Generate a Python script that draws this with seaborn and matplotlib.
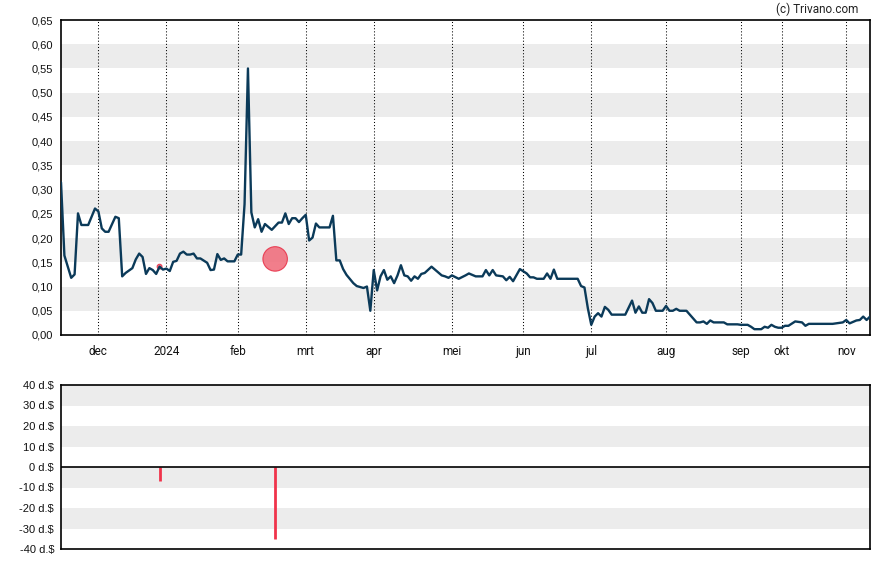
import matplotlib
matplotlib.use("Agg")
import matplotlib.pyplot as plt
import seaborn as sns
import pandas as pd
import numpy as np

# ---- data (x = trading-day index) ----
days = [0, 1, 3, 4, 5, 6, 8, 10, 11, 12, 13, 14, 16, 17, 18, 19, 20, 21, 22, 23,
        24, 25, 26, 27, 28, 29, 30, 31, 32, 33, 34, 35, 36, 37, 38, 39, 40, 41, 43, 44,
        45, 46, 47, 48, 49, 51, 52, 53, 54, 55, 56, 57, 58, 59, 60, 62, 64, 65, 66, 67,
        68, 69, 70, 71, 72, 73, 74, 75, 76, 79, 80, 81, 82, 83, 84, 86, 87, 89, 90, 91,
        92, 93, 94, 95, 96, 97, 98, 99, 100, 101, 102, 103, 104, 105, 106, 107, 109, 110, 112, 113,
        114, 115, 117, 119, 120, 122, 124, 125, 126, 127, 128, 130, 131, 132, 133, 135, 137, 138, 139, 140,
        142, 143, 144, 145, 146, 152, 153, 154, 155, 156, 157, 158, 159, 160, 161, 162, 166, 168, 169, 170,
        171, 172, 173, 174, 175, 177, 178, 179, 180, 181, 182, 184, 185, 187, 188, 189, 190, 191, 192, 195,
        196, 199, 200, 202, 203, 204, 206, 207, 208, 209, 210, 211, 212, 213, 214, 216, 218, 219, 220, 223,
        227, 230, 231, 232, 234, 235, 236, 237, 238]
prices = [0.315, 0.164, 0.118, 0.125, 0.251, 0.227, 0.227, 0.261, 0.255, 0.220, 0.213, 0.213, 0.244, 0.241, 0.121, 0.128, 0.133, 0.138, 0.156, 0.168,
          0.161, 0.126, 0.138, 0.134, 0.126, 0.141, 0.135, 0.137, 0.132, 0.151, 0.153, 0.168, 0.172, 0.166, 0.166, 0.168, 0.158, 0.158, 0.149, 0.134,
          0.135, 0.167, 0.155, 0.158, 0.152, 0.152, 0.166, 0.166, 0.270, 0.550, 0.253, 0.222, 0.239, 0.213, 0.229, 0.217, 0.232, 0.232, 0.251, 0.229,
          0.241, 0.241, 0.233, 0.241, 0.248, 0.195, 0.201, 0.230, 0.222, 0.222, 0.246, 0.154, 0.154, 0.136, 0.124, 0.107, 0.101, 0.097, 0.100, 0.050,
          0.134, 0.092, 0.121, 0.134, 0.114, 0.121, 0.107, 0.123, 0.144, 0.123, 0.121, 0.112, 0.121, 0.116, 0.126, 0.128, 0.141, 0.135, 0.123, 0.121,
          0.118, 0.123, 0.116, 0.123, 0.127, 0.121, 0.121, 0.134, 0.123, 0.134, 0.123, 0.121, 0.113, 0.120, 0.111, 0.136, 0.127, 0.119, 0.119, 0.116,
          0.116, 0.127, 0.116, 0.135, 0.116, 0.116, 0.101, 0.098, 0.055, 0.021, 0.038, 0.045, 0.038, 0.058, 0.052, 0.042, 0.042, 0.071, 0.046, 0.059,
          0.046, 0.046, 0.074, 0.066, 0.050, 0.050, 0.060, 0.050, 0.050, 0.054, 0.050, 0.050, 0.042, 0.026, 0.026, 0.028, 0.023, 0.030, 0.026, 0.026,
          0.022, 0.022, 0.021, 0.021, 0.017, 0.012, 0.012, 0.017, 0.015, 0.021, 0.017, 0.015, 0.015, 0.019, 0.019, 0.028, 0.026, 0.019, 0.023, 0.023,
          0.023, 0.026, 0.031, 0.024, 0.030, 0.031, 0.038, 0.031, 0.038]

month_days = [11, 31, 52, 72, 92, 115, 136, 156, 178, 200, 212, 231]
month_labels = ["dec", "2024", "feb", "mrt", "apr", "mei", "jun", "jul", "aug", "sep", "okt", "nov"]

event_days = [29, 63]
event_values = [-7, -35]
event_marker_prices = [0.141, 0.157]
event_marker_sizes = [12, 310]

price_ticks = [0.0, 0.05, 0.10, 0.15, 0.20, 0.25, 0.30, 0.35, 0.40, 0.45, 0.50, 0.55, 0.60, 0.65]
bar_ticks = [-40, -30, -20, -10, 0, 10, 20, 30, 40]

# ---- style ----
sns.set_theme(style="white")
plt.rcParams["font.family"] = ["Liberation Sans", "DejaVu Sans"]

LINE = "#0b3a59"
BAND = "#ececec"
RED = "#f0334b"

fig = plt.figure(figsize=(8.88, 5.65), dpi=100)
ax = fig.add_axes([61 / 888, 1 - 335 / 565, (870 - 61) / 888, (335 - 20) / 565])
ax2 = fig.add_axes([61 / 888, 1 - 549 / 565, (870 - 61) / 888, (549 - 385) / 565])

df = pd.DataFrame({"day": days, "price": prices})
ev = pd.DataFrame({"day": event_days, "value": event_values,
                   "mprice": event_marker_prices, "msize": event_marker_sizes})

# bands top
for lo in price_ticks[1:-1:2]:
    ax.axhspan(lo, lo + 0.05, color=BAND, lw=0, zorder=0)
for d in month_days:
    ax.axvline(d, color="black", lw=0.75, ls=(0, (1, 2.0)), zorder=1)

sns.scatterplot(x=ev["day"], y=ev["mprice"], s=ev["msize"].tolist(), color="#f0707e",
                edgecolor="#e8334a", linewidth=0.8, alpha=0.9, ax=ax, zorder=2, legend=False)
sns.lineplot(data=df, x="day", y="price", color=LINE, lw=1.7, ax=ax, zorder=3)

ax.set_xlim(0, 238)
ax.set_ylim(0, 0.65)
ax.set_yticks(price_ticks)
ax.set_yticklabels([f"{t:.2f}".replace(".", ",") for t in price_ticks])
ax.set_xticks(month_days)
ax.set_xticklabels(month_labels, family=["Roboto", "DejaVu Sans"])
ax.set_xlabel("")
ax.set_ylabel("")
ax.tick_params(axis="y", length=4, width=1, color="black", labelsize=8, pad=2, labelcolor="#111111")
ax.tick_params(axis="x", length=3, width=1, color="black", labelsize=8.5, pad=4, labelcolor="#111111")
for s in ax.spines.values():
    s.set_color("black")
    s.set_linewidth(1.2)

# bottom panel
for lo in [30, 10, -10, -30]:
    ax2.axhspan(lo, lo + 10, color=BAND, lw=0, zorder=0)
ax2.vlines(ev["day"], 0, ev["value"], color=RED, lw=2, zorder=2)
ax2.axhline(0, color="black", lw=1.2, zorder=3)
ax2.set_xlim(0, 238)
ax2.set_ylim(-40, 40)
ax2.set_yticks(bar_ticks)
ax2.set_yticklabels([f"{t} d.$" for t in bar_ticks])
ax2.set_xticks([])
ax2.tick_params(axis="y", length=4, width=1, color="black", labelsize=8, pad=1, labelcolor="#111111")
for s in ax2.spines.values():
    s.set_color("black")
    s.set_linewidth(1.2)

fig.text(858 / 888, 1 - 9 / 565, "(c) Trivano.com", ha="right", va="center",
         fontsize=8.5, family=["Roboto", "DejaVu Sans"], color="#222222")

fig.savefig("out.png", dpi=100)
